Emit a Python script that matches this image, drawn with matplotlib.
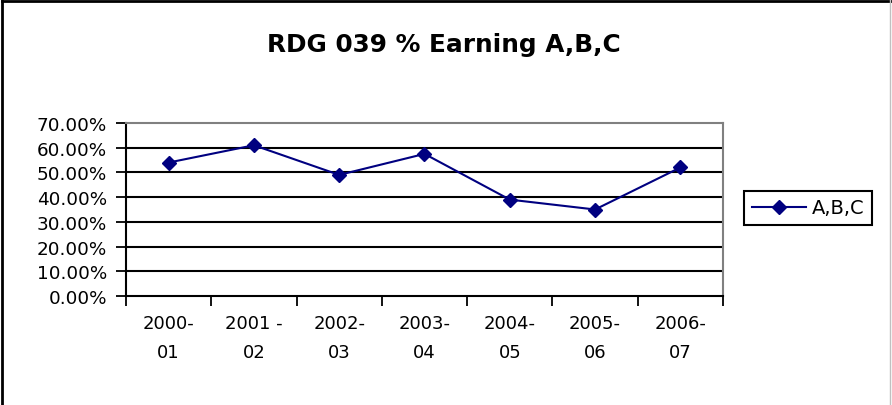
import numpy as np
import matplotlib
matplotlib.use("Agg")
import matplotlib.pyplot as plt
from matplotlib.lines import Line2D
from matplotlib.ticker import FuncFormatter, FixedLocator

# data
kategori = ["2000-\n01", "2001 -\n02", "2002-\n03", "2003-\n04", "2004-\n05", "2005-\n06", "2006-\n07"]
nilai_abc = [54.0, 61.0, 49.0, 57.5, 39.0, 35.0, 52.0]
label_seri = "A,B,C"
judul = "RDG 039 % Earning A,B,C"
y_ticks = [0, 10, 20, 30, 40, 50, 60, 70]

W, H = 892, 406
plt.rcParams["font.family"] = ["DejaVu Sans"]

fig = plt.figure(figsize=(W / 100, H / 100), dpi=100)
ax = fig.add_axes([126 / W, 1 - 297 / H, (723 - 126) / W, (297 - 124) / H])

x = np.arange(len(kategori))
ax.plot(x, nilai_abc, color="#000080", lw=1.5, marker="D", markersize=7.5,
        markerfacecolor="#000080", markeredgecolor="#000080", label=label_seri, zorder=3)

ax.set_xlim(-0.5, len(kategori) - 0.5)
ax.set_ylim(0, 70)

# y axis
ax.set_yticks(y_ticks)
ax.yaxis.set_major_formatter(FuncFormatter(lambda v, p: "%.2f%%" % v))
ax.tick_params(axis="y", direction="out", length=7, width=1.3, pad=6.5, labelsize=13.2, colors="black")
for yy in y_ticks[1:-1]:
    ax.axhline(yy, color="black", lw=1.5, zorder=1)

# x axis: tick marks between categories, labels at centres
ax.xaxis.set_major_locator(FixedLocator(np.arange(-0.5, len(kategori), 1.0)))
ax.xaxis.set_minor_locator(FixedLocator(x))
ax.set_xticklabels([], minor=False)
ax.set_xticklabels(kategori, minor=True, linespacing=1.75)
ax.tick_params(axis="x", which="major", direction="out", length=7, width=1.3)
ax.tick_params(axis="x", which="minor", length=0, pad=13, labelsize=13)

for s in ["left", "bottom"]:
    ax.spines[s].set_color("black")
    ax.spines[s].set_linewidth(1.5)
for s in ["top", "right"]:
    ax.spines[s].set_color("#808080")
    ax.spines[s].set_linewidth(1.5)

fig.text(444 / W, 1 - 45 / H, judul, ha="center", va="center", fontsize=17.8, fontweight="bold")

leg = fig.legend(loc="center left", bbox_to_anchor=(744 / W, 1 - 209 / H), fontsize=14,
                 frameon=True, fancybox=False, edgecolor="black", framealpha=1,
                 handlelength=2.8, handletextpad=0.3, borderpad=0.4, borderaxespad=0)
leg.get_frame().set_linewidth(1.5)

# outer chart border
fig.add_artist(Line2D([2 / W, 2 / W], [0, 1 - 2 / H], color="black", lw=2, transform=fig.transFigure))
fig.add_artist(Line2D([2 / W, 1], [1 - 2 / H, 1 - 2 / H], color="black", lw=2, transform=fig.transFigure))
fig.add_artist(Line2D([890 / W, 890 / W], [0, 1], color="#c0c0c0", lw=1, transform=fig.transFigure))

fig.savefig("out.png", dpi=100)
